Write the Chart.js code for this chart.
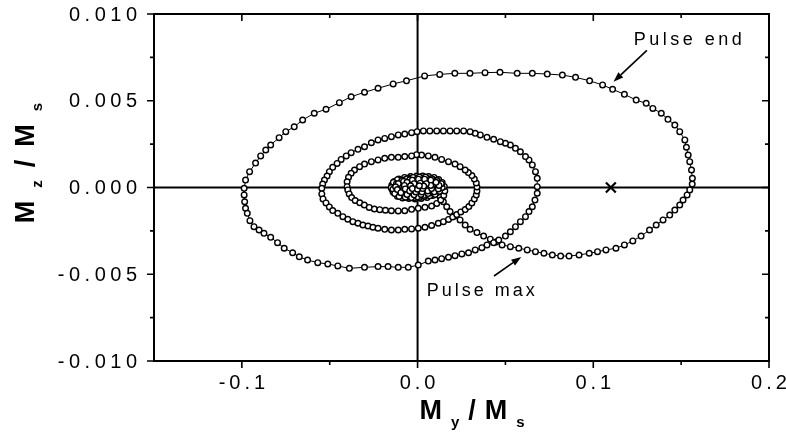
<!DOCTYPE html>
<html>
<head>
<meta charset="utf-8">
<script src="https://cdn.jsdelivr.net/npm/chart.js@4/dist/chart.umd.min.js"></script>
<style>
  html, body { margin: 0; padding: 0; background: #fff; }
  #wrap { width: 786px; height: 444px; }
</style>
</head>
<body>
<div id="wrap"><canvas id="chart" width="786" height="444"></canvas></div>
<script>
const xTicks = [-0.1, 0, 0.1, 0.2];
const xTickLabels = ['-0.1', '0.0', '0.1', '0.2'];
const xMinorTicks = [-0.05, 0.05, 0.15];
const yTicks = [-0.01, -0.005, 0, 0.005, 0.01];
const yTickLabels = ['-0.010', '-0.005', '0.000', '0.005', '0.010'];
const yMinorTicks = [-0.0075, -0.0025, 0.0025, 0.0075];

// [My/Ms, Mz/Ms] along the trajectory
const pulseRise = [
  [0, 0], [0.0023, -0.00003], [0.0057, -0.00009], [0.0086, -0.00014], [0.0109, -0.00024],
  [0.0128, -0.00053], [0.0147, -0.00082], [0.0166, -0.00111], [0.0185, -0.00139], [0.0213, -0.00164],
  [0.0242, -0.00187], [0.0271, -0.00216], [0.0299, -0.00241], [0.0338, -0.00260], [0.0376, -0.00280],
  [0.0414, -0.00298], [0.0446, -0.00314], [0.0481, -0.00331], [0.0528, -0.00341], [0.0576, -0.00350],
  [0.0624, -0.00360]
];
const pulseFall = [
  [0.0671, -0.00370], [0.0719, -0.00379], [0.0767, -0.00389], [0.0814, -0.00395], [0.0862, -0.00395],
  [0.0919, -0.00389], [0.0977, -0.00379], [0.1024, -0.00370], [0.1072, -0.00360], [0.1129, -0.00350],
  [0.1177, -0.00331], [0.1225, -0.00308], [0.1272, -0.00280], [0.1320, -0.00245], [0.1358, -0.00216],
  [0.1397, -0.00187], [0.1435, -0.00159], [0.1464, -0.00130], [0.1492, -0.00101], [0.1511, -0.00072],
  [0.1534, -0.00043], [0.1549, -0.00014], [0.1563, 0.00020], [0.1564, 0.00053], [0.1559, 0.00101],
  [0.1549, 0.00149], [0.1540, 0.00187], [0.1530, 0.00232], [0.1521, 0.00274], [0.1492, 0.00322],
  [0.1464, 0.00360], [0.1425, 0.00393], [0.1387, 0.00428], [0.1339, 0.00456], [0.1301, 0.00485],
  [0.1244, 0.00504], [0.1177, 0.00537], [0.1110, 0.00566]
];
const relaxation = [
  [0.1053, 0.00591], [0.0979, 0.00615], [0.0899, 0.00635], [0.0824, 0.00648], [0.0738, 0.00654],
  [0.0653, 0.00658], [0.0567, 0.00658], [0.0469, 0.00664], [0.0384, 0.00662], [0.0298, 0.00658],
  [0.0212, 0.00658], [0.0126, 0.00652], [0.0040, 0.00643], [-0.0063, 0.00615], [-0.0139, 0.00597],
  [-0.0225, 0.00572], [-0.0302, 0.00549], [-0.0378, 0.00523], [-0.0445, 0.00489], [-0.0521, 0.00451],
  [-0.0588, 0.00428], [-0.0654, 0.00389], [-0.0702, 0.00350], [-0.0750, 0.00322], [-0.0788, 0.00287],
  [-0.0836, 0.00245], [-0.0864, 0.00216], [-0.0893, 0.00182], [-0.0922, 0.00141], [-0.0956, 0.00091],
  [-0.0979, 0.00043], [-0.0987, -0.00005], [-0.0987, -0.00043], [-0.0984, -0.00082], [-0.0979, -0.00120],
  [-0.0969, -0.00149], [-0.0954, -0.00191], [-0.0931, -0.00226], [-0.0902, -0.00245], [-0.0874, -0.00264],
  [-0.0836, -0.00287], [-0.0797, -0.00318], [-0.0759, -0.00350], [-0.0711, -0.00376], [-0.0673, -0.00399],
  [-0.0626, -0.00418], [-0.0568, -0.00433], [-0.0511, -0.00441], [-0.0454, -0.00452], [-0.0388, -0.00466],
  [-0.0302, -0.00460], [-0.0225, -0.00456], [-0.0168, -0.00456], [-0.0110, -0.00460], [-0.0053, -0.00460],
  [0.0004, -0.00447], [0.0061, -0.00424], [0.0099, -0.00418], [0.0137, -0.00410], [0.0176, -0.00402],
  [0.0213, -0.00393], [0.0252, -0.00383], [0.0290, -0.00376], [0.0328, -0.00360], [0.0366, -0.00347],
  [0.0395, -0.00331], [0.0433, -0.00318], [0.0462, -0.00303], [0.0500, -0.00280], [0.0528, -0.00255],
  [0.0557, -0.00226], [0.0585, -0.00197], [0.0614, -0.00168], [0.0634, -0.00139], [0.0653, -0.00111],
  [0.0668, -0.00072], [0.0681, -0.00033], [0.0681, 0.00005], [0.0681, 0.00053], [0.0671, 0.00091],
  [0.0653, 0.00130], [0.0634, 0.00159], [0.0614, 0.00178], [0.0585, 0.00206], [0.0557, 0.00226],
  [0.0528, 0.00245], [0.0500, 0.00255], [0.0471, 0.00264], [0.0433, 0.00278], [0.0395, 0.00289],
  [0.0357, 0.00303], [0.0328, 0.00312], [0.0299, 0.00322], [0.0262, 0.00326], [0.0223, 0.00326],
  [0.0185, 0.00326], [0.0147, 0.00326], [0.0109, 0.00326], [0.0070, 0.00326], [0.0033, 0.00326],
  [-0.0003, 0.00322], [-0.0034, 0.00316], [-0.0073, 0.00308], [-0.0110, 0.00303], [-0.0149, 0.00293],
  [-0.0187, 0.00283], [-0.0225, 0.00274], [-0.0263, 0.00258], [-0.0302, 0.00235], [-0.0339, 0.00220],
  [-0.0378, 0.00201], [-0.0406, 0.00182], [-0.0435, 0.00162], [-0.0458, 0.00139], [-0.0483, 0.00116],
  [-0.0502, 0.00091], [-0.0515, 0.00066], [-0.0530, 0.00043], [-0.0540, 0.00020], [-0.0545, -0.00005],
  [-0.0545, -0.00037], [-0.0538, -0.00066], [-0.0521, -0.00089], [-0.0502, -0.00112], [-0.0483, -0.00133],
  [-0.0454, -0.00149], [-0.0425, -0.00168], [-0.0397, -0.00183], [-0.0368, -0.00197], [-0.0339, -0.00206],
  [-0.0311, -0.00216], [-0.0282, -0.00222], [-0.0254, -0.00229], [-0.0225, -0.00235], [-0.0187, -0.00241],
  [-0.0149, -0.00245], [-0.0110, -0.00245], [-0.0073, -0.00241], [-0.0034, -0.00239], [0.0004, -0.00235],
  [0.0042, -0.00229], [0.0080, -0.00219], [0.0118, -0.00206], [0.0147, -0.00197], [0.0176, -0.00184],
  [0.0200, -0.00170], [0.0223, -0.00156], [0.0246, -0.00141], [0.0271, -0.00127], [0.0292, -0.00110],
  [0.0309, -0.00089], [0.0323, -0.00066], [0.0334, -0.00043], [0.0338, -0.00020], [0.0338, 0.00003],
  [0.0334, 0.00026], [0.0323, 0.00049], [0.0309, 0.00069], [0.0289, 0.00086], [0.0271, 0.00101],
  [0.0242, 0.00120], [0.0213, 0.00135], [0.0176, 0.00149], [0.0137, 0.00162], [0.0099, 0.00174],
  [0.0061, 0.00182], [0.0023, 0.00187], [-0.0006, 0.00189], [-0.0034, 0.00182], [-0.0073, 0.00178],
  [-0.0110, 0.00174], [-0.0149, 0.00174], [-0.0187, 0.00168], [-0.0225, 0.00159], [-0.0263, 0.00149],
  [-0.0302, 0.00135], [-0.0330, 0.00120], [-0.0359, 0.00101], [-0.0378, 0.00082], [-0.0393, 0.00059],
  [-0.0401, 0.00033], [-0.0401, 0.00005], [-0.0397, -0.00014], [-0.0389, -0.00037], [-0.0375, -0.00058],
  [-0.0355, -0.00075], [-0.0329, -0.00088], [-0.0303, -0.00101], [-0.0275, -0.00115], [-0.0246, -0.00124],
  [-0.0215, -0.00128], [-0.0183, -0.00131], [-0.0149, -0.00134], [-0.0110, -0.00135], [-0.0073, -0.00134],
  [-0.0034, -0.00126], [0.0004, -0.00120], [0.0042, -0.00114], [0.0080, -0.00107], [0.0109, -0.00092],
  [0.0132, -0.00072], [0.0149, -0.00046], [0.0155, -0.00020]
];
// last turns, tightly wound round the origin
const settling = [
  [0.0152, 0.00006], [0.0140, 0.00029], [0.0120, 0.00046], [0.0094, 0.00058], [0.0063, 0.00063],
  [0.0029, 0.00066], [-0.0006, 0.00066], [-0.0040, 0.00063], [-0.0074, 0.00058], [-0.0106, 0.00049],
  [-0.0132, 0.00035], [-0.0146, 0.00014], [-0.0146, -0.00009], [-0.0135, -0.00029], [-0.0112, -0.00046],
  [-0.0083, -0.00058], [-0.0049, -0.00063], [-0.0014, -0.00066], [0.0020, -0.00063], [0.0054, -0.00058],
  [0.0086, -0.00046], [0.0112, -0.00029], [0.0129, -0.00009], [0.0129, 0.00014], [0.0114, 0.00035],
  [0.0089, 0.00046], [0.0057, 0.00052], [0.0023, 0.00055], [-0.0011, 0.00055], [-0.0046, 0.00052],
  [-0.0077, 0.00043], [-0.0103, 0.00029], [-0.0117, 0.00009], [-0.0114, -0.00014], [-0.0097, -0.00032],
  [-0.0069, -0.00043], [-0.0034, -0.00049], [0.0000, -0.00049], [0.0034, -0.00046], [0.0066, -0.00037],
  [0.0092, -0.00020], [0.0100, 0.00003], [0.0089, 0.00023], [0.0063, 0.00035], [0.0031, 0.00040],
  [-0.0003, 0.00040], [-0.0037, 0.00037], [-0.0069, 0.00026], [-0.0086, 0.00006], [-0.0080, -0.00014],
  [-0.0057, -0.00029], [-0.0023, -0.00035], [0.0011, -0.00035], [0.0046, -0.00029], [0.0069, -0.00012],
  [0.0069, 0.00012], [0.0046, 0.00026], [0.0011, 0.00029], [-0.0023, 0.00026], [-0.0049, 0.00012],
  [-0.0046, -0.00009], [-0.0017, -0.00017], [0.0017, -0.00017], [0.0040, -0.00003], [0.0017, 0.00012],
  [-0.0011, 0.00006], [-0.0040, 0.00020], [-0.0080, 0.00035], [-0.0115, 0.00045], [-0.0138, 0.00030],
  [-0.0150, 0.00000], [-0.0140, -0.00025], [-0.0115, -0.00050], [-0.0085, -0.00060], [-0.0050, -0.00055],
  [-0.0020, -0.00060], [0.0010, -0.00058], [0.0040, -0.00052], [0.0070, -0.00048], [0.0100, -0.00040],
  [0.0125, -0.00022], [0.0140, 0.00000], [0.0135, 0.00022], [0.0110, 0.00040], [0.0080, 0.00050],
  [0.0045, 0.00060], [0.0010, 0.00060], [-0.0025, 0.00058], [-0.0060, 0.00050], [-0.0090, 0.00040],
  [-0.0120, 0.00022], [-0.0128, 0.00000], [-0.0125, -0.00020], [-0.0100, -0.00040], [-0.0065, -0.00052],
  [-0.0030, -0.00045], [0.0005, -0.00042], [0.0040, -0.00040], [0.0075, -0.00030], [0.0095, -0.00010],
  [0.0085, 0.00012], [0.0060, 0.00025], [0.0025, 0.00030], [-0.0010, 0.00030], [-0.0040, 0.00025],
  [-0.0060, 0.00010], [-0.0060, -0.00010], [-0.0035, -0.00022], [0.0000, -0.00025], [0.0030, -0.00018],
  [0.0045, 0.00000], [0.0025, 0.00015], [0.0000, 0.00015], [-0.0020, 0.00005], [-0.0140, -0.00010],
  [-0.0130, -0.00035], [-0.0105, -0.00052], [-0.0070, -0.00056], [-0.0035, -0.00058], [0.0000, -0.00054],
  [0.0035, -0.00045], [0.0065, -0.00030], [0.0080, -0.00010], [0.0075, 0.00012], [0.0055, 0.00030],
  [0.0025, 0.00040], [-0.0010, 0.00045], [-0.0045, 0.00044], [-0.0080, 0.00036], [-0.0110, 0.00022],
  [-0.0125, 0.00004], [-0.0115, -0.00012], [-0.0095, -0.00030], [-0.0060, -0.00040], [-0.0020, -0.00042],
  [0.0020, -0.00040], [0.0060, -0.00035], [0.0095, -0.00025], [0.0118, -0.00008], [0.0122, 0.00012],
  [0.0105, 0.00030], [0.0075, 0.00042], [0.0040, 0.00048], [0.0005, 0.00048], [-0.0030, 0.00042],
  [-0.0060, 0.00030], [-0.0075, 0.00012], [-0.0070, -0.00008], [-0.0045, -0.00020], [-0.0010, -0.00026],
  [0.0025, -0.00026], [0.0058, -0.00020], [0.0080, -0.00006], [0.0075, 0.00012], [0.0050, 0.00022],
  [0.0015, 0.00025], [-0.0020, 0.00022], [-0.0040, 0.00010], [-0.0030, -0.00006], [0.0000, -0.00010],
  [0.0030, -0.00006], [0.0035, 0.00008], [0.0010, 0.00010]
];
// equilibrium while the pulse is on
const fieldCenter = [[0.11, 0]];

const trajectory = pulseRise.concat(pulseFall, relaxation, settling).map(([x, y]) => ({ x, y }));

const FONT = '"Liberation Sans", Arial, sans-serif';

// draws a string char by char with extra tracking
function spacedText(ctx, str, x, y, spacing, align) {
  const chars = [...str];
  const widths = chars.map(c => ctx.measureText(c).width);
  const total = widths.reduce((s, w) => s + w, 0) + spacing * (chars.length - 1);
  let cx = align === 'right' ? x - total : align === 'center' ? x - total / 2 : x;
  ctx.textAlign = 'left';
  chars.forEach((c, i) => { ctx.fillText(c, cx, y); cx += widths[i] + spacing; });
}

// "M_a / M_b" axis title centred on (0,0) of the current transform
function ratioTitle(ctx, sub1, sub2, gap) {
  const big = 'bold 27px ' + FONT, small = 'bold 15px ' + FONT;
  const parts = [['M', big, 0], [sub1, small, 8], ['/', big, 0], ['M', big, 0], [sub2, small, 8]];
  const widths = parts.map(([t, f]) => { ctx.font = f; return ctx.measureText(t).width; });
  const total = widths.reduce((s, w) => s + w, 0) + gap * (parts.length - 1);
  let cx = -total / 2;
  ctx.textAlign = 'left';
  ctx.textBaseline = 'alphabetic';
  parts.forEach(([t, f, dy], i) => {
    ctx.font = f;
    ctx.fillText(t, cx, dy);
    cx += widths[i] + gap;
  });
}

function arrow(ctx, x1, y1, x2, y2) {
  const a = Math.atan2(y2 - y1, x2 - x1), head = 10, half = 3.5;
  const bx = x2 - head * Math.cos(a), by = y2 - head * Math.sin(a);
  ctx.beginPath();
  ctx.moveTo(x1, y1);
  ctx.lineTo(bx, by);
  ctx.stroke();
  ctx.beginPath();
  ctx.moveTo(x2, y2);
  ctx.lineTo(bx + half * Math.sin(a), by - half * Math.cos(a));
  ctx.lineTo(bx - half * Math.sin(a), by + half * Math.cos(a));
  ctx.closePath();
  ctx.fill();
}

const axesPlugin = {
  id: 'originAxes',
  beforeDatasetsDraw(chart) {
    const { ctx, chartArea: a, scales: { x, y } } = chart;
    const x0 = x.getPixelForValue(0), y0 = y.getPixelForValue(0);
    ctx.save();
    ctx.strokeStyle = '#000';
    ctx.lineWidth = 2;
    ctx.beginPath();
    ctx.moveTo(x0, a.top); ctx.lineTo(x0, a.bottom);
    ctx.moveTo(a.left, y0); ctx.lineTo(a.right, y0);
    ctx.stroke();
    ctx.restore();
  },
  afterDatasetsDraw(chart) {
    const { ctx, chartArea: a, scales: { x, y } } = chart;
    ctx.save();
    ctx.strokeStyle = '#000';
    ctx.fillStyle = '#000';

    // frame
    ctx.lineWidth = 2;
    ctx.strokeRect(a.left, a.top, a.right - a.left, a.bottom - a.top);

    // ticks: out on bottom/left, in on top/right
    ctx.lineWidth = 1.6;
    ctx.beginPath();
    const xt = (vals, len) => vals.forEach(v => {
      const p = x.getPixelForValue(v);
      ctx.moveTo(p, a.bottom); ctx.lineTo(p, a.bottom + len);
      ctx.moveTo(p, a.top); ctx.lineTo(p, a.top + len);
    });
    const yt = (vals, len) => vals.forEach(v => {
      const p = y.getPixelForValue(v);
      ctx.moveTo(a.left, p); ctx.lineTo(a.left - len, p);
      ctx.moveTo(a.right, p); ctx.lineTo(a.right - len, p);
    });
    xt(xTicks, 7); xt(xMinorTicks, 4);
    yt(yTicks, 7); yt(yMinorTicks, 4);
    ctx.stroke();

    // tick labels
    ctx.font = '20px ' + FONT;
    ctx.textBaseline = 'middle';
    xTicks.forEach((v, i) => spacedText(ctx, xTickLabels[i], x.getPixelForValue(v), a.bottom + 22, 4, 'center'));
    yTicks.forEach((v, i) => spacedText(ctx, yTickLabels[i], a.left - 17, y.getPixelForValue(v) + 1, 4.5, 'right'));

    // axis titles
    ctx.save();
    ctx.translate(472, 419);
    ratioTitle(ctx, 'y', 's', 9);
    ctx.restore();
    ctx.save();
    ctx.translate(34, 163);
    ctx.rotate(-Math.PI / 2);
    ratioTitle(ctx, 'z', 's', 13);
    ctx.restore();

    // annotations
    ctx.font = '18px ' + FONT;
    ctx.textBaseline = 'alphabetic';
    spacedText(ctx, 'Pulse end', x.getPixelForValue(0.123), y.getPixelForValue(0.0082), 3.5, 'left');
    spacedText(ctx, 'Pulse max', x.getPixelForValue(0.0052), y.getPixelForValue(-0.00625), 3, 'left');
    ctx.lineWidth = 1.6;
    arrow(ctx, x.getPixelForValue(0.1305), y.getPixelForValue(0.0079), x.getPixelForValue(0.1115), y.getPixelForValue(0.0061));
    arrow(ctx, x.getPixelForValue(0.0435), y.getPixelForValue(-0.0051), x.getPixelForValue(0.0590), y.getPixelForValue(-0.00400));
    ctx.restore();
  }
};

new Chart(document.getElementById('chart'), {
  type: 'scatter',
  data: {
    datasets: [
      {
        data: trajectory,
        showLine: true,
        borderColor: '#000',
        borderWidth: 1,
        tension: 0,
        pointRadius: 2.8,
        pointBorderWidth: 1.4,
        pointBorderColor: '#000',
        pointBackgroundColor: '#fff'
      },
      {
        data: fieldCenter.map(([x, y]) => ({ x, y })),
        showLine: false,
        pointStyle: 'crossRot',
        pointRadius: 7,
        pointBorderWidth: 2.2,
        pointBorderColor: '#000'
      }
    ]
  },
  options: {
    responsive: false,
    animation: false,
    events: [],
    layout: { padding: { left: 154, right: 17, top: 14, bottom: 83 } },
    scales: {
      x: { type: 'linear', min: -0.15, max: 0.2, display: false },
      y: { type: 'linear', min: -0.01, max: 0.01, display: false }
    },
    plugins: { legend: { display: false }, tooltip: { enabled: false } }
  },
  plugins: [axesPlugin]
});
</script>
</body>
</html>
